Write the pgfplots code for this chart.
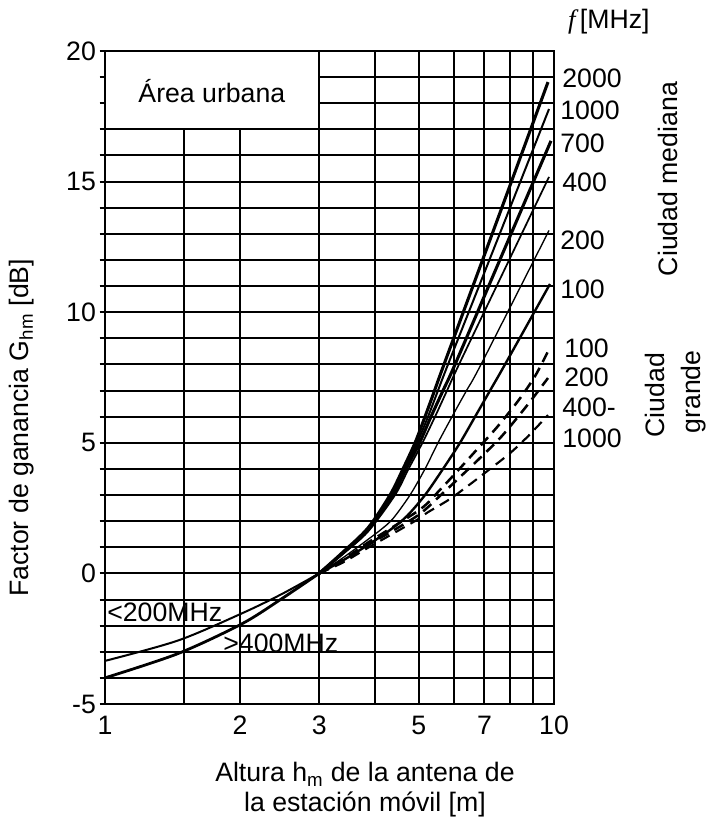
\documentclass[border=0pt]{standalone}
\usepackage{fontspec}
\setmainfont{Liberation Sans}
\newfontfamily\timesf{Liberation Serif}
\usepackage{pgfplots}
\pgfplotsset{compat=1.18}
\begin{document}
\fontsize{20}{24}\selectfont
\begin{tikzpicture}
\useasboundingbox (-78.75pt,-90pt) rectangle (452.25pt,528pt);
\begin{axis}[
  at={(0pt,0pt)}, anchor=south west,
  scale only axis, width=336.75pt, height=489.75pt,
  xmode=log, xmin=1, xmax=10, ymin=-5, ymax=20,
  clip=false,
  xtick={1,2,3,5,7,10}, xticklabels={1,2,3,5,7,10},
  minor xtick={1.5,4,6,8,9},
  ytick={-5,0,5,10,15,20}, yticklabels={-5,0,5,10,15,20},
  minor ytick={-4,-3,-2,-1,1,2,3,4,6,7,8,9,11,12,13,14,16,17,18,19},
  grid=both,
  major grid style={black, line width=1.5pt},
  minor grid style={black, line width=1.5pt},
  axis line style={black, line width=1.6pt},
  tick pos=left, tick align=outside,
  major tick length=4pt, minor tick length=4pt,
  ytick style={black, line width=1.5pt},
  xtick style={draw=none},
  xticklabel style={yshift=2pt},
  yticklabel style={xshift=4pt},
  xlabel={Altura h\textsubscript{m} de la antena de\\la estación móvil [m]},
  xlabel style={at={(axis description cs:0.579,-0.1317)}, anchor=center, align=center, font=\fontsize{20}{22.5}\selectfont},
  ylabel={Factor de ganancia G\textsubscript{hm} [dB]},
  ylabel style={at={(axis description cs:-0.185,0.423)}, anchor=center},
]
% low part (x < 3)
\addplot[black, line width=1.5pt, smooth] coordinates {(1,-3.35) (1.454,-2.57) (2.018,-1.53) (2.47,-0.8) (3,0)};
\addplot[black, line width=2.1pt, smooth] coordinates {(1,-4.0) (1.454,-3.07) (2.018,-1.93) (2.47,-0.98) (3,0)};
% Ciudad mediana: 2000, 1000, 700, 400, 200, 100 MHz
\addplot[black, line width=2.3pt, smooth] coordinates {(3,0) (3.39,0.82) (3.853,1.74) (4.313,3) (4.61,4) (4.904,5) (5.161,6) (5.42,7) (5.689,8) (7.504,13.6) (9.697,18.81)};
\addplot[black, line width=1.5pt, smooth] coordinates {(3,0) (3.39,0.8) (3.853,1.7) (4.346,3) (4.645,4) (4.955,5) (5.241,6) (5.516,7) (5.807,8) (7.584,13.03) (9.748,17.78)};
\addplot[black, line width=2.3pt, smooth] coordinates {(3,0) (3.39,0.78) (3.853,1.66) (4.38,3) (4.682,4) (5.018,5) (5.322,6) (5.66,7) (6.02,8) (7.698,12.28) (9.847,16.56)};
\addplot[black, line width=1.3pt, smooth] coordinates {(3,0) (3.39,0.75) (3.853,1.6) (4.425,3) (4.742,4) (5.094,5) (5.433,6) (5.778,7) (6.144,8) (7.74,11.59) (9.748,15.18)};
\addplot[black, line width=1.0pt, smooth] coordinates {(3,0) (3.39,0.6) (3.853,1.3) (4.119,1.68) (4.38,2.1) (4.779,3) (5.161,4) (5.516,5) (5.928,6) (6.385,7) (6.878,8) (9.748,13.13)};
\addplot[black, line width=1.8pt, smooth] coordinates {(3,0) (3.39,0.5) (3.853,1.09) (4.313,1.66) (4.706,2.2) (5.161,3) (5.66,4) (6.176,5) (6.672,6) (7.205,7) (7.78,8) (9.797,11.08)};
% Ciudad grande (dashed): 100, 200, 400-1000 MHz
\addplot[black, line width=1.9pt, smooth, dash pattern=on 8pt off 5pt] coordinates {(3,0) (3.39,0.52) (3.853,1.18) (5.032,2.45) (5.573,3.2) (6.081,3.9) (6.741,4.75) (7.469,5.6) (8.315,6.6) (9.072,7.55) (9.697,8.5)};
\addplot[black, line width=1.9pt, smooth, dash pattern=on 8pt off 5pt] coordinates {(3,0) (3.39,0.47) (3.853,1.08) (4.955,2.2) (5.66,3.08) (6.176,3.69) (6.846,4.42) (7.584,5.18) (8.273,5.95) (8.979,6.72) (9.697,7.48)};
\addplot[black, line width=1.6pt, smooth, dash pattern=on 8pt off 5pt] coordinates {(3,0) (3.39,0.42) (3.853,0.98) (4.955,2.05) (5.214,2.32) (5.867,2.85) (6.604,3.5) (7.205,4.0) (7.98,4.6) (8.752,5.25) (9.697,6.06)};
% box
\draw[black, line width=1.5pt, fill=white] (axis cs:1,17) rectangle (axis cs:3,20);
\node at (axis cs:1.73,18.47) {Área urbana};
% curve annotations
\node[anchor=west, inner sep=0pt] at (rel axis cs:0.0045,0.141) {<200MHz};
\node[anchor=west, inner sep=0pt] at (rel axis cs:0.263,0.0934) {>400MHz};
% right labels
\node at (rel axis cs:1.122,1.0444) {{\timesf\itshape f}\,[MHz]};
\node[anchor=west, inner sep=0pt] at (rel axis cs:1.018,0.9587) {2000};
\node[anchor=west, inner sep=0pt] at (rel axis cs:1.0134,0.9096) {1000};
\node[anchor=west, inner sep=0pt] at (rel axis cs:1.0134,0.859) {700};
\node[anchor=west, inner sep=0pt] at (rel axis cs:1.018,0.7994) {400};
\node[anchor=west, inner sep=0pt] at (rel axis cs:1.0134,0.7106) {200};
\node[anchor=west, inner sep=0pt] at (rel axis cs:1.0134,0.6355) {100};
\node[anchor=west, inner sep=0pt] at (rel axis cs:1.0223,0.5452) {100};
\node[anchor=west, inner sep=0pt] at (rel axis cs:1.0223,0.5008) {200};
\node[anchor=west, inner sep=0pt] at (rel axis cs:1.018,0.4548) {400-};
\node[anchor=west, inner sep=0pt] at (rel axis cs:1.018,0.4074) {1000};
\node[rotate=90] at (rel axis cs:1.254,0.804) {Ciudad mediana};
\node[rotate=90] at (rel axis cs:1.225,0.473) {Ciudad};
\node[rotate=90] at (rel axis cs:1.31,0.478) {grande};
\end{axis}
\end{tikzpicture}
\end{document}
